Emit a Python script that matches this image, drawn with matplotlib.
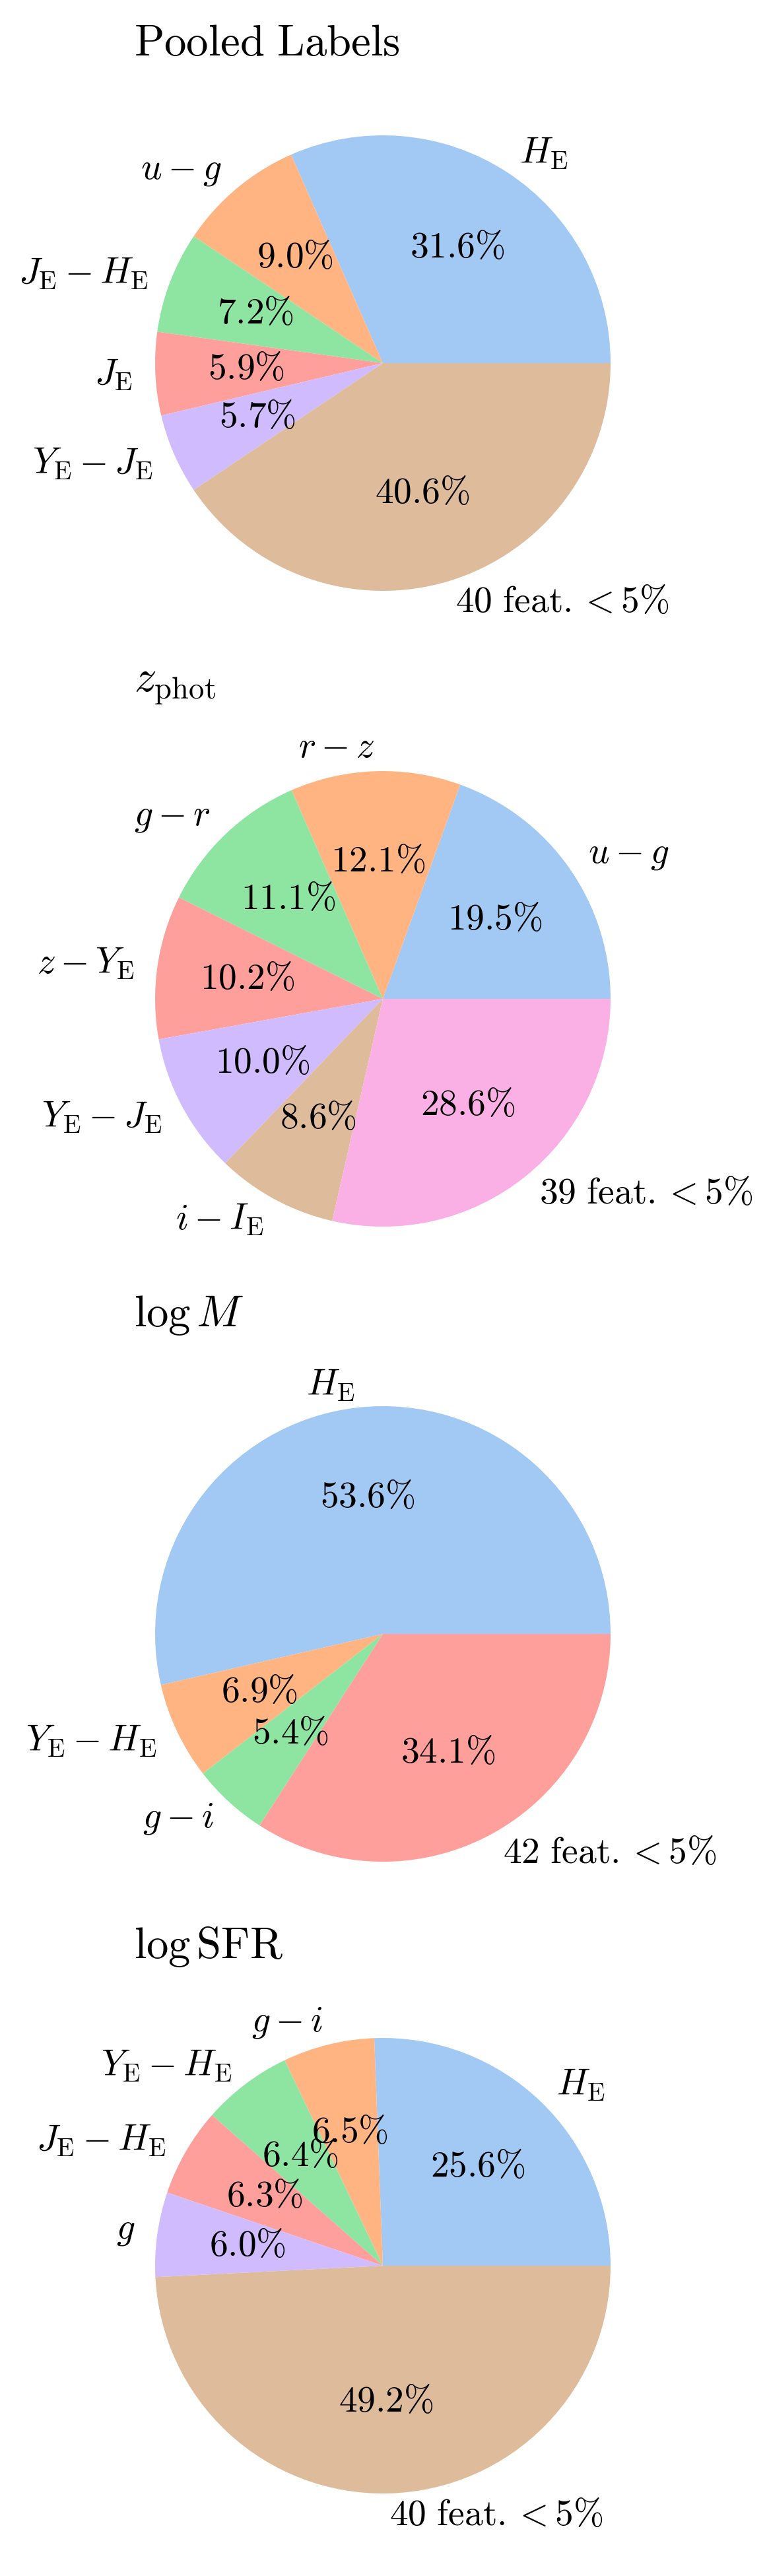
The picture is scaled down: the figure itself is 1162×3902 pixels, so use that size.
import matplotlib
matplotlib.use('Agg')
import matplotlib.pyplot as plt
import seaborn as sns

plt.rcParams['mathtext.fontset'] = 'cm'
plt.rcParams['font.family'] = ['cmr10', 'DejaVu Sans']
plt.rcParams['axes.formatter.use_mathtext'] = True

# Feature importance shares per target (percent)
titles = [r'$\mathrm{Pooled\ Labels}$', r'$z_{\rm phot}$', r'$\log M$', r'$\log \mathrm{SFR}$']

pooled_labels = [r'$H_{\rm E}$', r'$u - g$', r'$J_{\rm E} - H_{\rm E}$', r'$J_{\rm E}$',
                 r'$Y_{\rm E} - J_{\rm E}$', r'$40\ \mathrm{feat.} < 5\%$']
pooled_values = [31.6, 9.0, 7.2, 5.9, 5.7, 40.6]

zphot_labels = [r'$u - g$', r'$r - z$', r'$g - r$', r'$z - Y_{\rm E}$',
                r'$Y_{\rm E} - J_{\rm E}$', r'$i - I_{\rm E}$', r'$39\ \mathrm{feat.} < 5\%$']
zphot_values = [19.5, 12.1, 11.1, 10.2, 10.0, 8.6, 28.6]

mass_labels = [r'$H_{\rm E}$', r'$Y_{\rm E} - H_{\rm E}$', r'$g - i$', r'$42\ \mathrm{feat.} < 5\%$']
mass_values = [53.6, 6.9, 5.4, 34.1]

sfr_labels = [r'$H_{\rm E}$', r'$g - i$', r'$Y_{\rm E} - H_{\rm E}$', r'$J_{\rm E} - H_{\rm E}$',
              r'$g$', r'$40\ \mathrm{feat.} < 5\%$']
sfr_values = [25.6, 6.5, 6.4, 6.3, 6.0, 49.2]

all_labels = [pooled_labels, zphot_labels, mass_labels, sfr_labels]
all_values = [pooled_values, zphot_values, mass_values, sfr_values]

colors = sns.color_palette('pastel')

W, H = 1162, 3902
fig = plt.figure(figsize=(W / 100, H / 100), dpi=100)

# pie centres in pixels (from top), radius in pixels
centers_y = [550, 1513, 2475, 3432]
cx = 580
radius = 345
side = 2.5 * radius

for i in range(4):
    left = (cx - side / 2) / W
    bottom = (H - centers_y[i] - side / 2) / H
    ax = fig.add_axes([left, bottom, side / W, side / H])
    ax.pie(all_values[i], labels=all_labels[i], colors=colors,
           autopct=lambda p: rf'${p:.1f}\%$',
           textprops={'fontsize': 40})
    ax.set_title(titles[i], loc='left', x=0.063, y=1.04, pad=0, fontsize=48)

fig.savefig('out.png', dpi=100)
